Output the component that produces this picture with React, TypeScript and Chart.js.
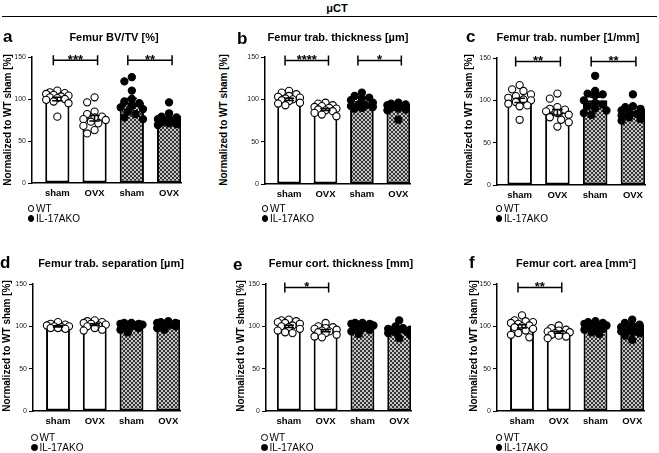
import React, { useEffect, useRef } from 'react';
import { Chart, registerables } from 'chart.js';

Chart.register(...registerables);

const FONT = '"Liberation Sans", Arial, sans-serif';

// ---------- data ----------
const groupLabels = ['sham', 'OVX', 'sham', 'OVX'];
const yTicks = [0, 50, 100, 150];
const legendLabels = ['WT', 'IL-17AKO'];

// a: Femur BV/TV
const bvtvMeans = [100, 77, 96, 74];
const bvtvSem = [2.2, 3.3, 4.5, 2.0];
const bvtvWtSham = [110, 108, 107, 106, 105, 104, 103, 102, 101, 100, 99, 97, 95, 79];
const bvtvWtOvx = [102, 96, 85, 82, 79, 78, 76, 75, 73, 71, 68, 63, 59];
const bvtvKoSham = [126, 121, 110, 100, 97, 95, 92, 90, 88, 85, 82, 78, 76];
const bvtvKoOvx = [96, 83, 79, 78, 77, 76, 75, 74, 73, 72, 71, 70, 69];
const bvtvSig: [number, number, string][] = [[0, 1, '***'], [2, 3, '**']];

// b: trab thickness
const tbthMeans = [100, 88, 95, 89];
const tbthSem = [1.4, 1.3, 2.0, 1.5];
const tbthWtSham = [110, 108, 106, 104, 103, 102, 101, 100, 99, 98, 96, 95, 93];
const tbthWtOvx = [96, 95, 93, 92, 91, 90, 89, 88, 87, 86, 84, 82, 80];
const tbthKoSham = [108, 104, 102, 101, 99, 96, 94, 93, 92, 91, 90, 89];
const tbthKoOvx = [96, 95, 94, 93, 92, 91, 90, 90, 89, 88, 87, 76];
const tbthSig: [number, number, string][] = [[0, 1, '****'], [2, 3, '*']];

// c: trab number
const tbnMeans = [100, 86, 100, 84];
const tbnSem = [2.5, 3.2, 3.5, 2.4];
const tbnWtSham = [118, 113, 111, 107, 105, 103, 101, 100, 98, 96, 94, 93, 77];
const tbnWtOvx = [108, 102, 92, 90, 89, 87, 85, 83, 80, 77, 74, 69];
const tbnKoSham = [129, 111, 108, 107, 106, 100, 97, 95, 93, 91, 88, 85, 83];
const tbnKoOvx = [107, 93, 92, 90, 88, 86, 85, 84, 82, 80, 78, 76];
const tbnSig: [number, number, string][] = [[0, 1, '**'], [2, 3, '**']];

// d: trab separation
const tbspMeans = [100, 102, 101, 102];
const tbspSem = [0.8, 1.1, 0.9, 0.8];
const tbspWtSham = [105, 103, 102, 101, 100, 100, 99, 98, 98, 97];
const tbspWtOvx = [107, 106, 105, 104, 103, 102, 101, 100, 98, 96, 95];
const tbspKoSham = [104, 104, 103, 103, 102, 102, 101, 100, 99, 98, 96, 93];
const tbspKoOvx = [106, 105, 104, 104, 103, 103, 102, 102, 101, 100, 98, 96];
const tbspSig: [number, number, string][] = [];

// e: cort thickness
const ctthMeans = [100, 95, 99, 95];
const ctthSem = [1.3, 1.3, 1.2, 1.5];
const ctthWtSham = [108, 107, 106, 105, 104, 103, 101, 100, 99, 97, 95, 93, 92];
const ctthWtOvx = [104, 100, 99, 98, 97, 96, 95, 94, 93, 92, 90, 88, 87];
const ctthKoSham = [104, 104, 103, 103, 102, 101, 100, 99, 98, 96, 94, 91];
const ctthKoOvx = [107, 100, 98, 97, 96, 96, 95, 94, 93, 92, 90, 86];
const ctthSig: [number, number, string][] = [[0, 1, '*']];

// f: cort area
const ctarMeans = [100, 93, 100, 95];
const ctarSem = [2.0, 1.2, 1.2, 1.8];
const ctarWtSham = [113, 107, 106, 105, 104, 103, 101, 100, 99, 97, 95, 92, 90, 87];
const ctarWtOvx = [101, 98, 96, 95, 94, 93, 92, 91, 90, 89, 88, 86];
const ctarKoSham = [106, 105, 104, 103, 102, 101, 100, 99, 98, 97, 96, 93, 91];
const ctarKoOvx = [108, 104, 102, 101, 99, 97, 96, 95, 94, 93, 92, 89, 84];
const ctarSig: [number, number, string][] = [[0, 1, '**']];

// ---------- layout ----------
type PanelCfg = {
  letter: string;
  title: string;
  means: number[];
  sems: number[];
  points: number[][];
  sig: [number, number, string][];
  ax: number; top: number; bottom: number; width: number; xMin: number;
  letterX: number; letterBase: number;
  titleX: number; titleBase: number;
  ylabX: number; ylabY: number;
  legX: number; legBase: number;
};

const panels: PanelCfg[] = [
  { letter: 'a', title: 'Femur BV/TV [%]', means: bvtvMeans, sems: bvtvSem,
    points: [bvtvWtSham, bvtvWtOvx, bvtvKoSham, bvtvKoOvx], sig: bvtvSig,
    ax: 32, top: 57, bottom: 183, width: 149, xMin: -0.68,
    letterX: 3, letterBase: 42, titleX: 114, titleBase: 41, ylabX: 7.5, ylabY: 120, legX: 30.5, legBase: 212 },
  { letter: 'b', title: 'Femur trab. thickness [µm]', means: tbthMeans, sems: tbthSem,
    points: [tbthWtSham, tbthWtOvx, tbthKoSham, tbthKoOvx], sig: tbthSig,
    ax: 265, top: 57, bottom: 184, width: 145, xMin: -0.66,
    letterX: 237, letterBase: 44, titleX: 338, titleBase: 41, ylabX: 223.5, ylabY: 120, legX: 264.5, legBase: 212 },
  { letter: 'c', title: 'Femur trab. number [1/mm]', means: tbnMeans, sems: tbnSem,
    points: [tbnWtSham, tbnWtOvx, tbnKoSham, tbnKoOvx], sig: tbnSig,
    ax: 497, top: 58, bottom: 185, width: 148, xMin: -0.6,
    letterX: 466, letterBase: 42, titleX: 568, titleBase: 41, ylabX: 469, ylabY: 120, legX: 498.5, legBase: 212 },
  { letter: 'd', title: 'Femur trab. separation [µm]', means: tbspMeans, sems: tbspSem,
    points: [tbspWtSham, tbspWtOvx, tbspKoSham, tbspKoOvx], sig: tbspSig,
    ax: 33, top: 284, bottom: 411, width: 147, xMin: -0.68,
    letterX: 0, letterBase: 268, titleX: 111, titleBase: 267, ylabX: 6.5, ylabY: 346, legX: 34, legBase: 441 },
  { letter: 'e', title: 'Femur cort. thickness [mm]', means: ctthMeans, sems: ctthSem,
    points: [ctthWtSham, ctthWtOvx, ctthKoSham, ctthKoOvx], sig: ctthSig,
    ax: 266, top: 284, bottom: 411, width: 145, xMin: -0.62,
    letterX: 233, letterBase: 270, titleX: 341, titleBase: 267, ylabX: 240.5, ylabY: 346, legX: 264, legBase: 441 },
  { letter: 'f', title: 'Femur cort. area [mm²]', means: ctarMeans, sems: ctarSem,
    points: [ctarWtSham, ctarWtOvx, ctarKoSham, ctarKoOvx], sig: ctarSig,
    ax: 497, top: 284, bottom: 411, width: 147, xMin: -0.68,
    letterX: 469, letterBase: 268, titleX: 576, titleBase: 267, ylabX: 474, ylabY: 346, legX: 498.5, legBase: 441 },
];

const X_MAX = 3.32;
const PAD_L = 30, PAD_T = 14, PAD_R = 4, PAD_B = 24;
const POINT_R = 3.6;

function makePattern(): CanvasPattern | string {
  const pc = document.createElement('canvas');
  pc.width = 4; pc.height = 4;
  const p = pc.getContext('2d');
  if (!p) return '#888';
  p.fillStyle = '#c4c4c4';
  p.fillRect(0, 0, 4, 4);
  p.fillStyle = '#363636';
  p.fillRect(0, 0, 2, 2);
  p.fillRect(2, 2, 2, 2);
  const pat = p.createPattern(pc, 'repeat');
  return pat || '#888';
}

// deterministic beeswarm layout for the dots of one group
function swarm(values: number[], center: number, pxPerX: number, pxPerY: number) {
  const placed: { x: number; y: number }[] = [];
  const order = values.map((_, i) => i).sort((a, b) => values[b] - values[a]);
  const step = 0.1;
  for (const i of order) {
    const v = values[i];
    let best = 0, bestScore = -Infinity;
    for (let k = 0; k < 7; k++) {
      const off = k === 0 ? 0 : (k % 2 ? -1 : 1) * Math.ceil(k / 2) * step;
      let minD = Infinity;
      for (const pt of placed) {
        const dx = (pt.x - off) * pxPerX;
        const dy = (pt.y - v) * pxPerY;
        minD = Math.min(minD, Math.hypot(dx, dy));
      }
      if (minD >= 2 * POINT_R * 0.95) { best = off; break; }
      if (minD > bestScore) { bestScore = minD; best = off; }
    }
    placed.push({ x: best, y: v });
  }
  return placed.map((pt) => ({ x: center + pt.x, y: pt.y }));
}

function Panel({ cfg }: { cfg: PanelCfg }) {
  const ref = useRef<HTMLCanvasElement>(null);
  const cw = cfg.width + PAD_L + PAD_R;
  const ch = cfg.bottom - cfg.top + PAD_T + PAD_B;

  useEffect(() => {
    const canvas = ref.current;
    if (!canvas) return;
    const pattern = makePattern();
    const pxPerX = cfg.width / (X_MAX - cfg.xMin);
    const pxPerY = (cfg.bottom - cfg.top) / 150;

    const scatterSets = cfg.points.map((vals, g) => ({
      type: 'scatter' as const,
      data: swarm(vals, g, pxPerX, pxPerY),
      pointRadius: POINT_R,
      pointHoverRadius: POINT_R,
      pointBorderWidth: 1.1,
      pointBackgroundColor: g < 2 ? '#ffffff' : '#000000',
      pointBorderColor: '#000000',
      order: 0,
    }));

    const errorBars = {
      id: 'errorBars',
      afterDatasetsDraw(chart: any) {
        const xs = chart.scales.x, ys = chart.scales.y;
        const ctx = chart.ctx;
        ctx.save();
        ctx.strokeStyle = '#000';
        ctx.lineWidth = 1.5;
        cfg.means.forEach((m, i) => {
          const px = xs.getPixelForValue(i);
          const t = ys.getPixelForValue(m + cfg.sems[i]);
          const b = ys.getPixelForValue(m - cfg.sems[i]);
          const cap = 0.14 * pxPerX;
          ctx.beginPath();
          ctx.moveTo(px, t); ctx.lineTo(px, b);
          ctx.moveTo(px - cap, t); ctx.lineTo(px + cap, t);
          ctx.moveTo(px - cap, b); ctx.lineTo(px + cap, b);
          ctx.stroke();
        });
        ctx.restore();
      },
    };

    const sigPlugin = {
      id: 'sig',
      afterDraw(chart: any) {
        const xs = chart.scales.x, ys = chart.scales.y;
        const ctx = chart.ctx;
        ctx.save();
        ctx.strokeStyle = '#000';
        ctx.fillStyle = '#000';
        ctx.lineWidth = 1.5;
        cfg.sig.forEach(([i, j, label]) => {
          const x1 = xs.getPixelForValue(i) - 4;
          const x2 = xs.getPixelForValue(j) + 3;
          const yl = ys.getPixelForValue(146);
          ctx.beginPath();
          ctx.moveTo(x1, yl); ctx.lineTo(x2, yl);
          ctx.moveTo(x1, yl - 5); ctx.lineTo(x1, yl + 5);
          ctx.moveTo(x2, yl - 5); ctx.lineTo(x2, yl + 5);
          ctx.stroke();
          ctx.font = `bold 13px ${FONT}`;
          ctx.textAlign = 'center';
          ctx.textBaseline = 'alphabetic';
          ctx.fillText(label, (x1 + x2) / 2, yl + 3.5);
        });
        ctx.restore();
      },
    };

    const chart = new Chart(canvas, {
      type: 'bar',
      data: {
        datasets: [
          {
            type: 'bar',
            data: cfg.means.map((m, i) => ({ x: i, y: m })),
            backgroundColor: ['#ffffff', '#ffffff', pattern, pattern] as any,
            borderColor: '#000000',
            borderWidth: 2,
            borderSkipped: false,
            barPercentage: 0.65,
            categoryPercentage: 1,
            order: 1,
          } as any,
          ...(scatterSets as any[]),
        ],
      },
      options: {
        responsive: false,
        animation: false,
        events: [],
        layout: { padding: { left: 0, top: PAD_T, right: PAD_R, bottom: 0 }, autoPadding: false } as any,
        plugins: { legend: { display: false }, tooltip: { enabled: false }, title: { display: false } },
        scales: {
          x: {
            type: 'linear',
            min: cfg.xMin,
            max: X_MAX,
            offset: false,
            afterFit: (s: any) => { s.height = PAD_B; },
            afterBuildTicks: (s: any) => { s.ticks = [0, 1, 2, 3].map((v) => ({ value: v })); },
            ticks: {
              callback: (v: any) => groupLabels[v] ?? '',
              font: { family: FONT, size: 9.5, weight: 'bold' },
              color: '#000',
              padding: 5,
              maxRotation: 0,
              autoSkip: false,
            },
            grid: { display: false, drawTicks: false },
            border: { display: true, color: '#000', width: 1.5 },
          },
          y: {
            type: 'linear',
            min: 0,
            max: 150,
            afterFit: (s: any) => { s.width = PAD_L; },
            afterBuildTicks: (s: any) => { s.ticks = yTicks.map((v) => ({ value: v })); },
            ticks: { font: { family: FONT, size: 7 }, color: '#222', padding: 2 },
            grid: { display: true, drawOnChartArea: false, drawTicks: true, tickLength: 4, color: '#000', lineWidth: 1 },
            border: { display: true, color: '#000', width: 1.5 },
          },
        } as any,
      },
      plugins: [errorBars, sigPlugin],
    } as any);
    return () => chart.destroy();
  }, [cfg]);

  const textTop = (base: number, size: number) => base - 0.8465 * size;

  return (
    <>
      <canvas
        ref={ref}
        width={cw}
        height={ch}
        style={{ position: 'absolute', left: cfg.ax - PAD_L, top: cfg.top - PAD_T, width: cw, height: ch, display: 'block' }}
      />
      <div style={{ position: 'absolute', left: cfg.letterX, top: textTop(cfg.letterBase, 17), fontSize: 17, lineHeight: '17px', fontWeight: 'bold', whiteSpace: 'nowrap' }}>
        {cfg.letter}
      </div>
      <div style={{ position: 'absolute', left: cfg.titleX, top: textTop(cfg.titleBase, 11), transform: 'translateX(-50%)', fontSize: 11, lineHeight: '11px', fontWeight: 'bold', whiteSpace: 'nowrap' }}>
        {cfg.title}
      </div>
      <div style={{ position: 'absolute', left: cfg.ylabX, top: cfg.ylabY, transform: 'translate(-50%, -50%) rotate(-90deg)', fontSize: 10, lineHeight: '10px', fontWeight: 'bold', whiteSpace: 'nowrap' }}>
        Normalized to WT sham [%]
      </div>
      {legendLabels.map((lab, k) => (
        <React.Fragment key={lab}>
          <div style={{
            position: 'absolute', left: cfg.legX - 3, top: cfg.legBase + k * 10 - 6.6, width: 6.5, height: 6.5,
            boxSizing: 'border-box', borderRadius: '50%', border: '1.3px solid #000',
            background: k === 0 ? '#fff' : '#000',
          }} />
          <div style={{ position: 'absolute', left: cfg.legX + 5.5, top: textTop(cfg.legBase + k * 10, 10), fontSize: 10, lineHeight: '10px', whiteSpace: 'nowrap' }}>
            {lab}
          </div>
        </React.Fragment>
      ))}
    </>
  );
}

export default function App() {
  return (
    <div style={{ position: 'absolute', left: 0, top: 0, width: 659, height: 453, background: '#fff', fontFamily: FONT, color: '#000', overflow: 'hidden' }}>
      <div style={{ position: 'absolute', left: 337, top: 12 - 0.8465 * 11, transform: 'translateX(-50%)', fontSize: 11, lineHeight: '11px', fontWeight: 'bold' }}>
        μCT
      </div>
      <div style={{ position: 'absolute', left: 2, top: 15.5, width: 655, height: 1.5, background: '#000' }} />
      {panels.map((p) => (
        <Panel key={p.letter} cfg={p} />
      ))}
    </div>
  );
}
